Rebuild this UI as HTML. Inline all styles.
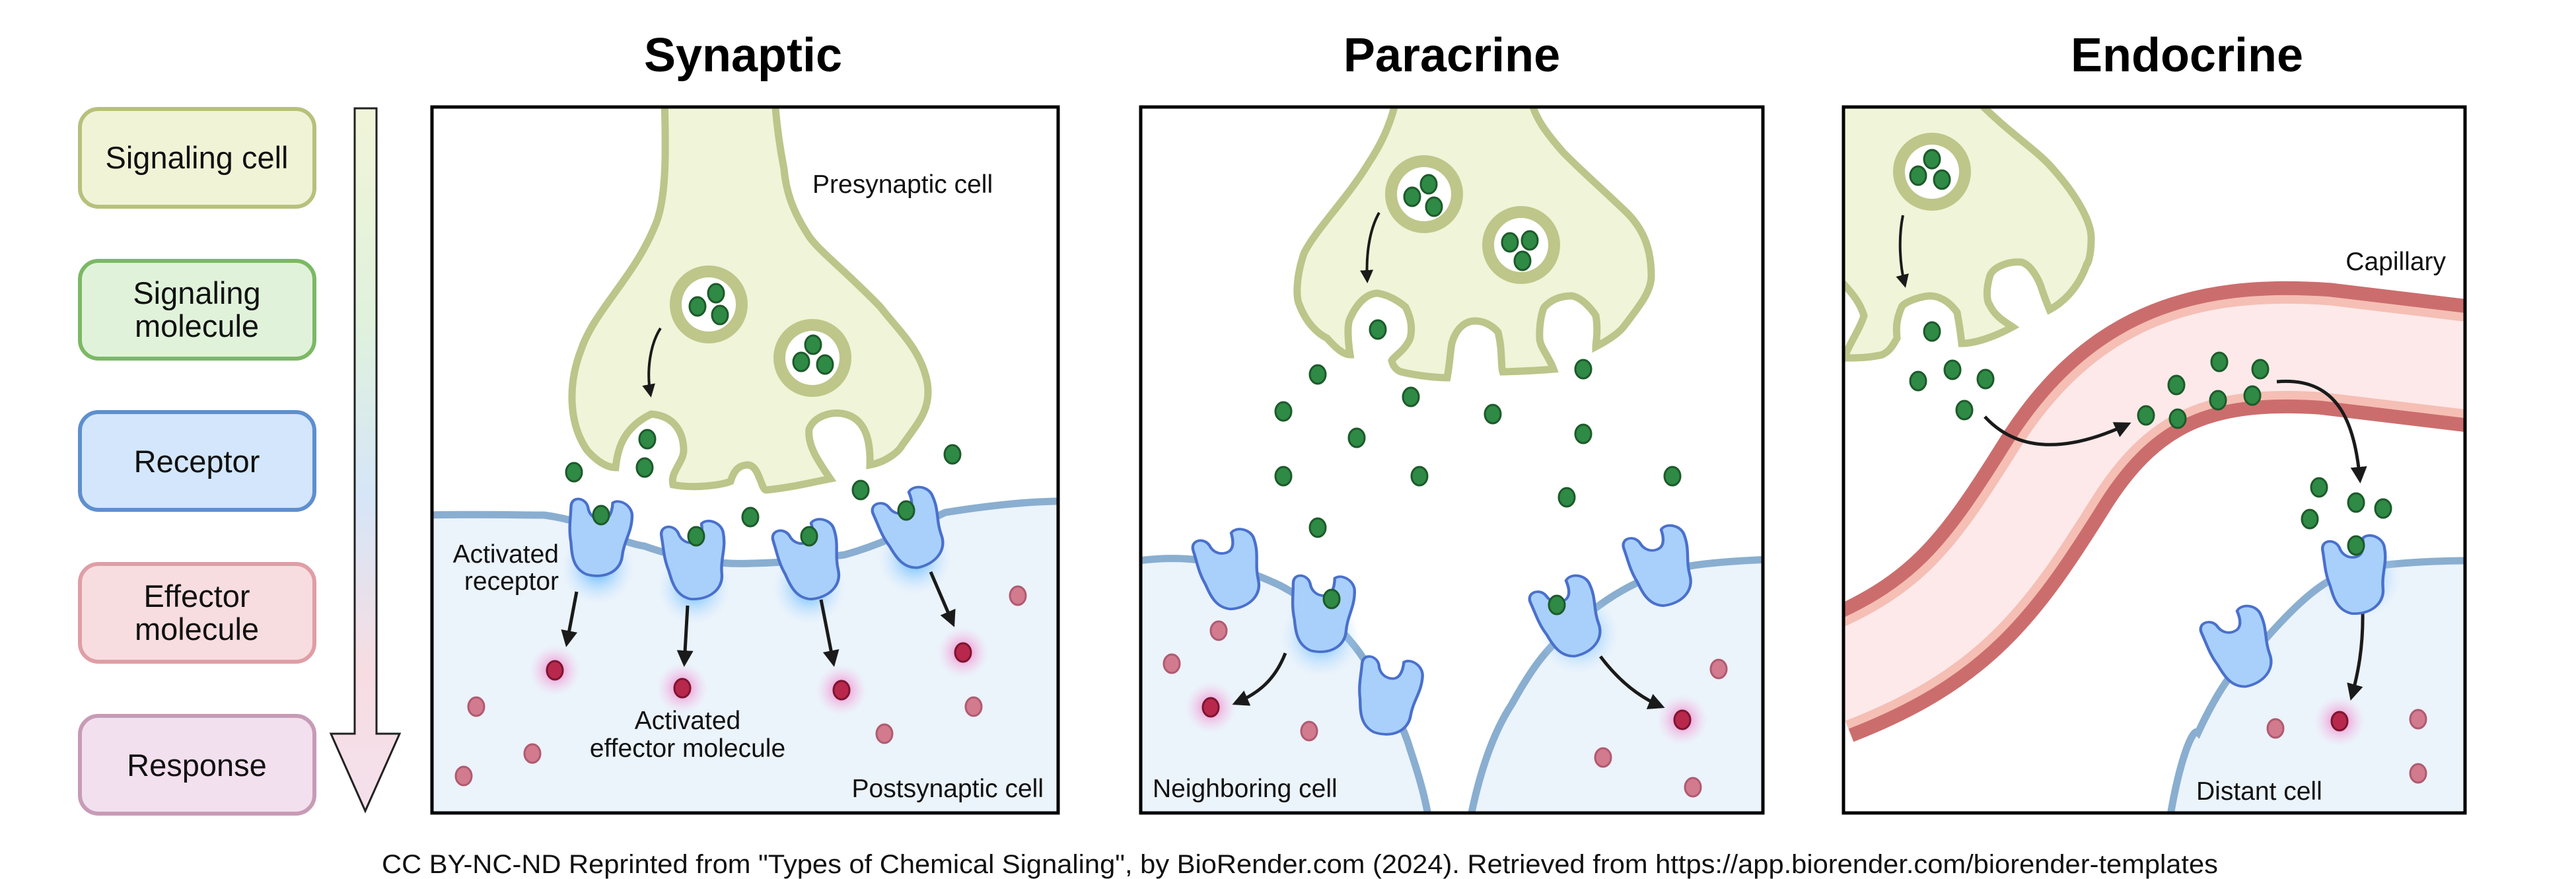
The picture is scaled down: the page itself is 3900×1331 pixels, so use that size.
<!DOCTYPE html>
<html><head><meta charset="utf-8"><style>
html,body{margin:0;padding:0;background:#fff}
svg{display:block}
text{font-family:"Liberation Sans",sans-serif}
</style></head><body>
<svg width="3900" height="1331" viewBox="0 0 3900 1331" xmlns="http://www.w3.org/2000/svg">
<defs>
<linearGradient id="ag" x1="0" y1="0" x2="0" y2="1">
<stop offset="0" stop-color="#f1f4d9"/><stop offset="0.3" stop-color="#e0f2dc"/><stop offset="0.55" stop-color="#d5e6f8"/><stop offset="0.8" stop-color="#f7dde2"/><stop offset="1" stop-color="#f4e0ec"/></linearGradient>
<radialGradient id="bg"><stop offset="0" stop-color="#3aa8ff" stop-opacity="0.9"/><stop offset="0.5" stop-color="#7cc4ff" stop-opacity="0.45"/><stop offset="1" stop-color="#bfe2ff" stop-opacity="0"/></radialGradient>
<radialGradient id="mg"><stop offset="0" stop-color="#f03cb0" stop-opacity="0.7"/><stop offset="1" stop-color="#f8b0dc" stop-opacity="0"/></radialGradient>
<g id="rec"><path d="M-45,-40 C-48,-58 -28,-60 -22,-45 C-18,-32 -8,-28 0,-30 C10,-32 12,-45 10,-60 C18,-70 38,-62 40,-45 C44,-20 36,-5 38,20 C40,45 20,62 -5,60 C-25,55 -30,35 -35,15 C-42,-5 -42,-20 -45,-40 Z" fill="#a8d0fb" stroke="#4a70cc" stroke-width="4" transform="scale(1.1,0.95)"/></g>
<g id="gd"><ellipse cx="0" cy="0" rx="12" ry="14" fill="#2e8a44" stroke="#1d5a2b" stroke-width="3"/></g>
<g id="pd"><ellipse cx="0" cy="0" rx="12" ry="14" fill="#d27a8e" stroke="#b05a70" stroke-width="3"/></g>
<g id="ad"><circle r="38" fill="url(#mg)"/><ellipse cx="0" cy="0" rx="12" ry="14" fill="#b8284c" stroke="#7e1530" stroke-width="3"/></g>
<g id="ves"><circle r="50" fill="#fff" stroke="#bec68a" stroke-width="18"/></g>
<marker id="ah" viewBox="0 0 10 10" refX="8" refY="5" markerWidth="5" markerHeight="5" orient="auto"><path d="M0,0 L10,5 L0,10 Z" fill="#1a1a1a"/></marker>
<clipPath id="c1"><rect x="654" y="162" width="948" height="1069"/></clipPath>
<clipPath id="c2"><rect x="1727" y="162" width="942" height="1069"/></clipPath>
<clipPath id="c3"><rect x="2791" y="162" width="941" height="1069"/></clipPath>
</defs>

<g stroke-width="6">
<rect x="121" y="165" width="355" height="148" rx="28" fill="#f1f3d6" stroke="#b8c07c"/>
<rect x="121" y="395" width="355" height="148" rx="28" fill="#e0f3da" stroke="#7cb866"/>
<rect x="121" y="624" width="355" height="148" rx="28" fill="#d3e6fb" stroke="#5e8fce"/>
<rect x="121" y="854" width="355" height="148" rx="28" fill="#f8dde0" stroke="#df9ea6"/>
<rect x="121" y="1084" width="355" height="148" rx="28" fill="#f3e0ee" stroke="#c79bb6"/>
</g>
<g font-size="47" text-anchor="middle" fill="#111">
<text x="298" y="255">Signaling cell</text>
<text x="298" y="460">Signaling</text><text x="298" y="510">molecule</text>
<text x="298" y="715">Receptor</text>
<text x="298" y="919">Effector</text><text x="298" y="969">molecule</text>
<text x="298" y="1175">Response</text>
</g>
<path d="M537,164 L570,164 L570,1111 L605,1111 L553,1228 L501,1111 L537,1111 Z" fill="url(#ag)" stroke="#222" stroke-width="3"/>

<g font-size="72" font-weight="bold" text-anchor="middle" fill="#000">
<text x="1125" y="108">Synaptic</text>
<text x="2198" y="108">Paracrine</text>
<text x="3311" y="108">Endocrine</text>
</g>

<!-- SYNAPTIC -->
<rect x="654" y="162" width="948" height="1069" fill="#fff"/>
<g clip-path="url(#c1)">
<path d="M640,780 C720,778 780,780 824,780 C900,790 930,820 976,827 C1040,850 1100,855 1138,853 C1200,852 1240,845 1279,840 C1350,820 1400,790 1431,776 C1500,765 1560,759 1610,759 L1610,1240 L640,1240 Z" fill="#ebf3fb" stroke="#89aed0" stroke-width="11"/>
<path d="M1006,150 C1008,220 1010,300 992,341 C960,420 900,470 880,529 C860,580 860,640 889,682 C905,700 920,708 932,708 C935,680 943,648 986,627 C1025,630 1035,660 1035,682 C1035,700 1014,715 1019,734 C1050,740 1090,735 1106,729 C1112,710 1120,704 1133,704 C1150,706 1152,742 1160,742 C1200,738 1230,730 1257,725 C1240,700 1222,675 1225,650 C1232,630 1260,622 1279,627 C1312,635 1318,670 1317,704 C1340,700 1360,685 1366,674 C1390,640 1410,620 1404,580 C1395,530 1360,500 1333,465 C1280,410 1240,380 1225,358 C1200,320 1190,290 1187,256 C1180,220 1175,180 1173,150 Z" fill="#f0f4d8" stroke="#bcc58a" stroke-width="11"/>
<use href="#ves" x="1073" y="461"/><use href="#ves" x="1230" y="542"/>
<use href="#gd" x="1084" y="444"/><use href="#gd" x="1056" y="464"/><use href="#gd" x="1090" y="477"/>
<use href="#gd" x="1231" y="522"/><use href="#gd" x="1213" y="548"/><use href="#gd" x="1249" y="552"/>
<path d="M1000,497 C985,520 978,560 985,598" fill="none" stroke="#1a1a1a" stroke-width="4" marker-end="url(#ah)"/>
<use href="#gd" x="980" y="665"/><use href="#gd" x="976" y="708"/><use href="#gd" x="869" y="715"/><use href="#gd" x="1136" y="783"/><use href="#gd" x="1303" y="742"/><use href="#gd" x="1442" y="688"/>
<circle cx="905" cy="860" r="55" fill="url(#bg)"/><circle cx="1051" cy="890" r="55" fill="url(#bg)"/><circle cx="1225" cy="890" r="55" fill="url(#bg)"/><circle cx="1385" cy="845" r="55" fill="url(#bg)"/>
<use href="#rec" transform="translate(905,815) rotate(12)"/><use href="#gd" x="910" y="780"/>
<use href="#rec" transform="translate(1051,850)"/><use href="#gd" x="1054" y="812"/>
<use href="#rec" transform="translate(1225,850) rotate(-8)"/><use href="#gd" x="1225" y="812"/>
<use href="#rec" transform="translate(1380,803) rotate(-15)"/><use href="#gd" x="1372" y="773"/>
<g stroke="#1a1a1a" stroke-width="5" fill="none" marker-end="url(#ah)">
<path d="M873,896 L858,975"/><path d="M1041,917 L1036,1005"/><path d="M1243,908 L1262,1005"/><path d="M1409,866 L1443,945"/>
</g>
<use href="#ad" x="840" y="1015"/><use href="#ad" x="1033" y="1042"/><use href="#ad" x="1274" y="1045"/><use href="#ad" x="1458" y="988"/>
<use href="#pd" x="1541" y="902"/><use href="#pd" x="721" y="1070"/><use href="#pd" x="806" y="1141"/><use href="#pd" x="702" y="1175"/><use href="#pd" x="1474" y="1070"/><use href="#pd" x="1339" y="1111"/>
<g font-size="39" fill="#111">
<text x="1230" y="292">Presynaptic cell</text>
<text x="846" y="852" text-anchor="end">Activated</text><text x="846" y="893" text-anchor="end">receptor</text>
<text x="1041" y="1104" text-anchor="middle">Activated</text><text x="1041" y="1146" text-anchor="middle">effector molecule</text>
<text x="1580" y="1207" text-anchor="end">Postsynaptic cell</text>
</g>
</g>
<rect x="654" y="162" width="948" height="1069" fill="none" stroke="#000" stroke-width="5"/>

<!-- PARACRINE -->
<rect x="1727" y="162" width="942" height="1069" fill="#fff"/>
<g clip-path="url(#c2)">
<path d="M1715,850 C1780,842 1840,840 1939,887 C2000,920 2040,960 2065,998 C2100,1050 2125,1100 2135,1135 C2150,1180 2158,1210 2163,1240 L1715,1240 Z" fill="#ebf3fb" stroke="#89aed0" stroke-width="11"/>
<path d="M2226,1240 C2240,1170 2260,1110 2289,1066 C2320,1010 2340,985 2373,955 C2420,915 2450,895 2486,879 C2530,860 2560,852 2680,847 L2680,1240 Z" fill="#ebf3fb" stroke="#89aed0" stroke-width="11"/>
<path d="M2114,150 C2105,190 2090,220 2072,247 C2040,300 1990,350 1974,384 C1962,420 1962,450 1967,461 C1978,490 1995,505 2009,512 C2025,530 2035,537 2044,537 C2040,510 2040,490 2044,482 C2055,458 2070,444 2086,444 C2110,448 2128,465 2128,465 C2138,485 2138,500 2135,512 C2128,530 2110,540 2107,546 C2110,560 2121,563 2121,563 C2150,570 2180,572 2191,572 C2195,550 2196,530 2198,520 C2205,495 2220,486 2233,486 C2255,486 2268,503 2268,503 C2275,530 2272,555 2275,563 C2310,562 2340,560 2352,559 C2345,540 2331,525 2331,512 C2330,490 2335,470 2338,465 C2350,452 2365,448 2380,448 C2400,452 2416,478 2416,478 C2420,500 2416,520 2416,525 C2435,515 2450,505 2458,495 C2485,460 2500,440 2500,418 C2500,380 2490,350 2465,324 C2430,290 2390,255 2366,230 C2340,200 2325,180 2317,150 Z" fill="#f0f4d8" stroke="#bcc58a" stroke-width="11"/>
<use href="#ves" x="2156" y="294"/><use href="#ves" x="2303" y="371"/>
<use href="#gd" x="2163" y="279"/><use href="#gd" x="2138" y="298"/><use href="#gd" x="2171" y="313"/>
<use href="#gd" x="2286" y="367"/><use href="#gd" x="2316" y="364"/><use href="#gd" x="2305" y="395"/>
<path d="M2088,322 C2072,350 2068,390 2070,425" fill="none" stroke="#1a1a1a" stroke-width="4" marker-end="url(#ah)"/>
<use href="#gd" x="2086" y="499"/><use href="#gd" x="1995" y="567"/><use href="#gd" x="2397" y="559"/><use href="#gd" x="1943" y="623"/><use href="#gd" x="2136" y="601"/><use href="#gd" x="2260" y="627"/><use href="#gd" x="2054" y="663"/><use href="#gd" x="2397" y="657"/><use href="#gd" x="1943" y="721"/><use href="#gd" x="2149" y="721"/><use href="#gd" x="2532" y="721"/><use href="#gd" x="2372" y="753"/><use href="#gd" x="1995" y="799"/>
<circle cx="2000" cy="965" r="60" fill="url(#bg)"/><circle cx="2390" cy="960" r="60" fill="url(#bg)"/>
<use href="#rec" transform="translate(1861,865) rotate(-8)"/>
<use href="#rec" transform="translate(2000,930) rotate(10)"/><use href="#gd" x="2016" y="907"/>
<use href="#rec" transform="translate(2100,1055) rotate(15)"/>
<use href="#rec" transform="translate(2375,937) rotate(-15)"/><use href="#gd" x="2357" y="916"/>
<use href="#rec" transform="translate(2514,860) rotate(-10)"/>
<g stroke="#1a1a1a" stroke-width="5" fill="none" marker-end="url(#ah)">
<path d="M1946,989 C1930,1030 1905,1050 1870,1065"/><path d="M2423,994 C2450,1030 2480,1055 2516,1070"/>
</g>
<use href="#ad" x="1833" y="1071"/><use href="#ad" x="2547" y="1090"/>
<use href="#pd" x="1845" y="955"/><use href="#pd" x="1774" y="1005"/><use href="#pd" x="1982" y="1107"/><use href="#pd" x="2602" y="1013"/><use href="#pd" x="2427" y="1147"/><use href="#pd" x="2563" y="1192"/>
<text x="1745" y="1207" font-size="39" fill="#111">Neighboring cell</text>
</g>
<rect x="1727" y="162" width="942" height="1069" fill="none" stroke="#000" stroke-width="5"/>

<!-- ENDOCRINE -->
<rect x="2791" y="162" width="941" height="1069" fill="#fff"/>
<g clip-path="url(#c3)">
<path d="M3285,1240 C3300,1150 3320,1100 3328,1109 C3360,1040 3390,1000 3426,972 C3480,910 3520,875 3566,862 C3620,852 3680,849 3745,849 L3745,1240 Z" fill="#ebf3fb" stroke="#89aed0" stroke-width="11"/>
<g fill="none">
<path d="M2770,1030 C2950,960 3010,880 3110,720 C3210,560 3330,515 3520,528 L3745,555" stroke="#cc6d6d" stroke-width="200"/>
<path d="M2770,1030 C2950,960 3010,880 3110,720 C3210,560 3330,515 3520,528 L3745,555" stroke="#f5bfb5" stroke-width="158"/>
<path d="M2770,1030 C2950,960 3010,880 3110,720 C3210,560 3330,515 3520,528 L3745,555" stroke="#fde9ea" stroke-width="132"/>
</g>
<path d="M2700,150 L2991,150 C3040,200 3080,225 3103,250 C3140,290 3166,333 3166,360 C3166,390 3160,401 3159,401 C3145,440 3120,460 3103,469 C3095,450 3092,440 3089,431 C3080,410 3070,400 3061,397 C3040,395 3015,405 3012,420 C3005,445 3010,460 3012,461 C3020,480 3040,490 3047,495 C3020,510 2990,520 2970,520 C2968,500 2965,485 2963,473 C2950,455 2935,448 2921,448 C2900,450 2880,460 2879,465 C2868,490 2872,505 2872,512 C2865,525 2860,532 2850,537 C2830,542 2810,542 2792,542 C2800,520 2815,500 2822,478 C2815,455 2800,440 2792,431 L2700,431 Z" fill="#f0f4d8" stroke="#bcc58a" stroke-width="11"/>
<use href="#ves" x="2925" y="260"/>
<use href="#gd" x="2925" y="241"/><use href="#gd" x="2904" y="266"/><use href="#gd" x="2940" y="272"/>
<path d="M2881,326 C2874,360 2876,400 2884,432" fill="none" stroke="#1a1a1a" stroke-width="4" marker-end="url(#ah)"/>
<use href="#gd" x="2925" y="502"/><use href="#gd" x="2904" y="577"/><use href="#gd" x="2956" y="560"/><use href="#gd" x="3006" y="574"/><use href="#gd" x="2974" y="621"/>
<use href="#gd" x="3295" y="583"/><use href="#gd" x="3360" y="548"/><use href="#gd" x="3422" y="559"/><use href="#gd" x="3410" y="599"/><use href="#gd" x="3358" y="606"/><use href="#gd" x="3249" y="629"/><use href="#gd" x="3297" y="634"/>
<use href="#gd" x="3511" y="738"/><use href="#gd" x="3567" y="761"/><use href="#gd" x="3608" y="770"/><use href="#gd" x="3497" y="786"/>
<g stroke="#1a1a1a" stroke-width="5" fill="none" marker-end="url(#ah)">
<path d="M3005,631 C3050,680 3120,690 3222,642"/><path d="M3447,578 C3540,570 3565,640 3573,727"/><path d="M3577,925 C3578,980 3570,1020 3560,1056"/>
</g>
<circle cx="3575" cy="875" r="60" fill="url(#bg)"/>
<use href="#rec" transform="translate(3566,872)"/><use href="#gd" x="3567" y="826"/>
<use href="#rec" transform="translate(3391,983) rotate(-15)"/>
<use href="#ad" x="3542" y="1092"/>
<use href="#pd" x="3445" y="1103"/><use href="#pd" x="3661" y="1089"/><use href="#pd" x="3661" y="1171"/>
<g font-size="39" fill="#111">
<text x="3703" y="409" text-anchor="end">Capillary</text>
<text x="3325" y="1211">Distant cell</text>
</g>
</g>
<rect x="2791" y="162" width="941" height="1069" fill="none" stroke="#000" stroke-width="5"/>

<text x="1968" y="1322" font-size="40" text-anchor="middle" fill="#111" textLength="2780" lengthAdjust="spacingAndGlyphs">CC BY-NC-ND Reprinted from "Types of Chemical Signaling", by BioRender.com (2024). Retrieved from https://app.biorender.com/biorender-templates</text>
</svg>
</body></html>
